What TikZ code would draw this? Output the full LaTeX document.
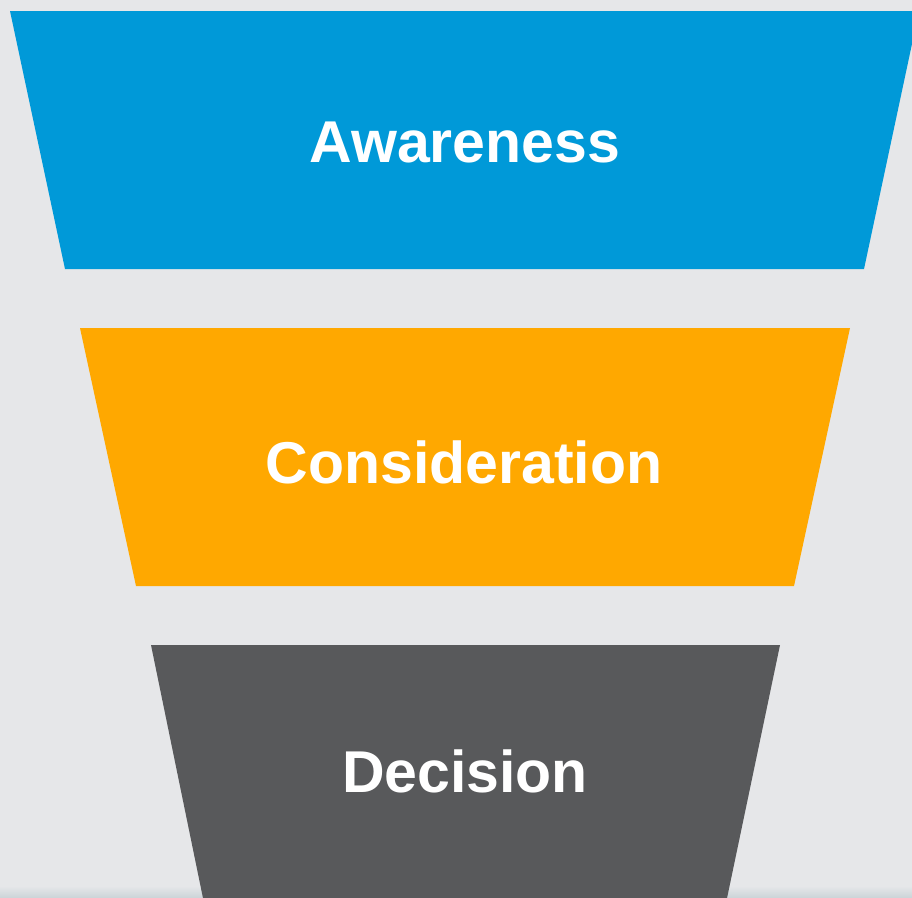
\documentclass[tikz,border=0pt]{standalone}
\usepackage{fontspec}
\newfontfamily\stagefont{Liberation Sans}
\definecolor{funnelbg}{HTML}{E6E7E9}
\definecolor{awareblue}{HTML}{0099D8}
\definecolor{considerorange}{HTML}{FFA800}
\definecolor{decidegray}{HTML}{58595B}
\definecolor{shadowgray}{HTML}{CDD5D9}
\begin{document}
\begin{tikzpicture}[
        x=1pt, y=-1pt,
        % --- stage styles ---
        stagelabel/.style={text=white, anchor=base, inner sep=0pt, font=\stagefont\bfseries\fontsize{59}{59}\selectfont},
        awarefill/.style={fill=awareblue},
        considerfill/.style={fill=considerorange},
        decidefill/.style={fill=decidegray}
        % --------------------
    ]

    % background
    \useasboundingbox (0,0) rectangle (912,897);
    \clip (0,0) rectangle (912,897);
    \fill[funnelbg] (0,0) rectangle (912,897);
    \shade[top color=funnelbg, bottom color=shadowgray] (0,886) rectangle (912,897);

    % awareness (blue)
    \fill[awarefill] (10,11) -- (919,11) -- (864,269) -- (65,269) -- cycle;
    \node[stagelabel] (aware) at (465,162) {Awareness};

    % consideration (orange)
    \fill[considerfill] (80,328) -- (850,328) -- (794,586) -- (136,586) -- cycle;
    \node[stagelabel] (consider) at (464,483) {Consideration};

    % decision (gray)
    \fill[decidefill] (151,645) -- (780,645) -- (726,903) -- (204,903) -- cycle;
    \node[stagelabel] (decide) at (465,792) {Decision};
\end{tikzpicture}
\end{document}
